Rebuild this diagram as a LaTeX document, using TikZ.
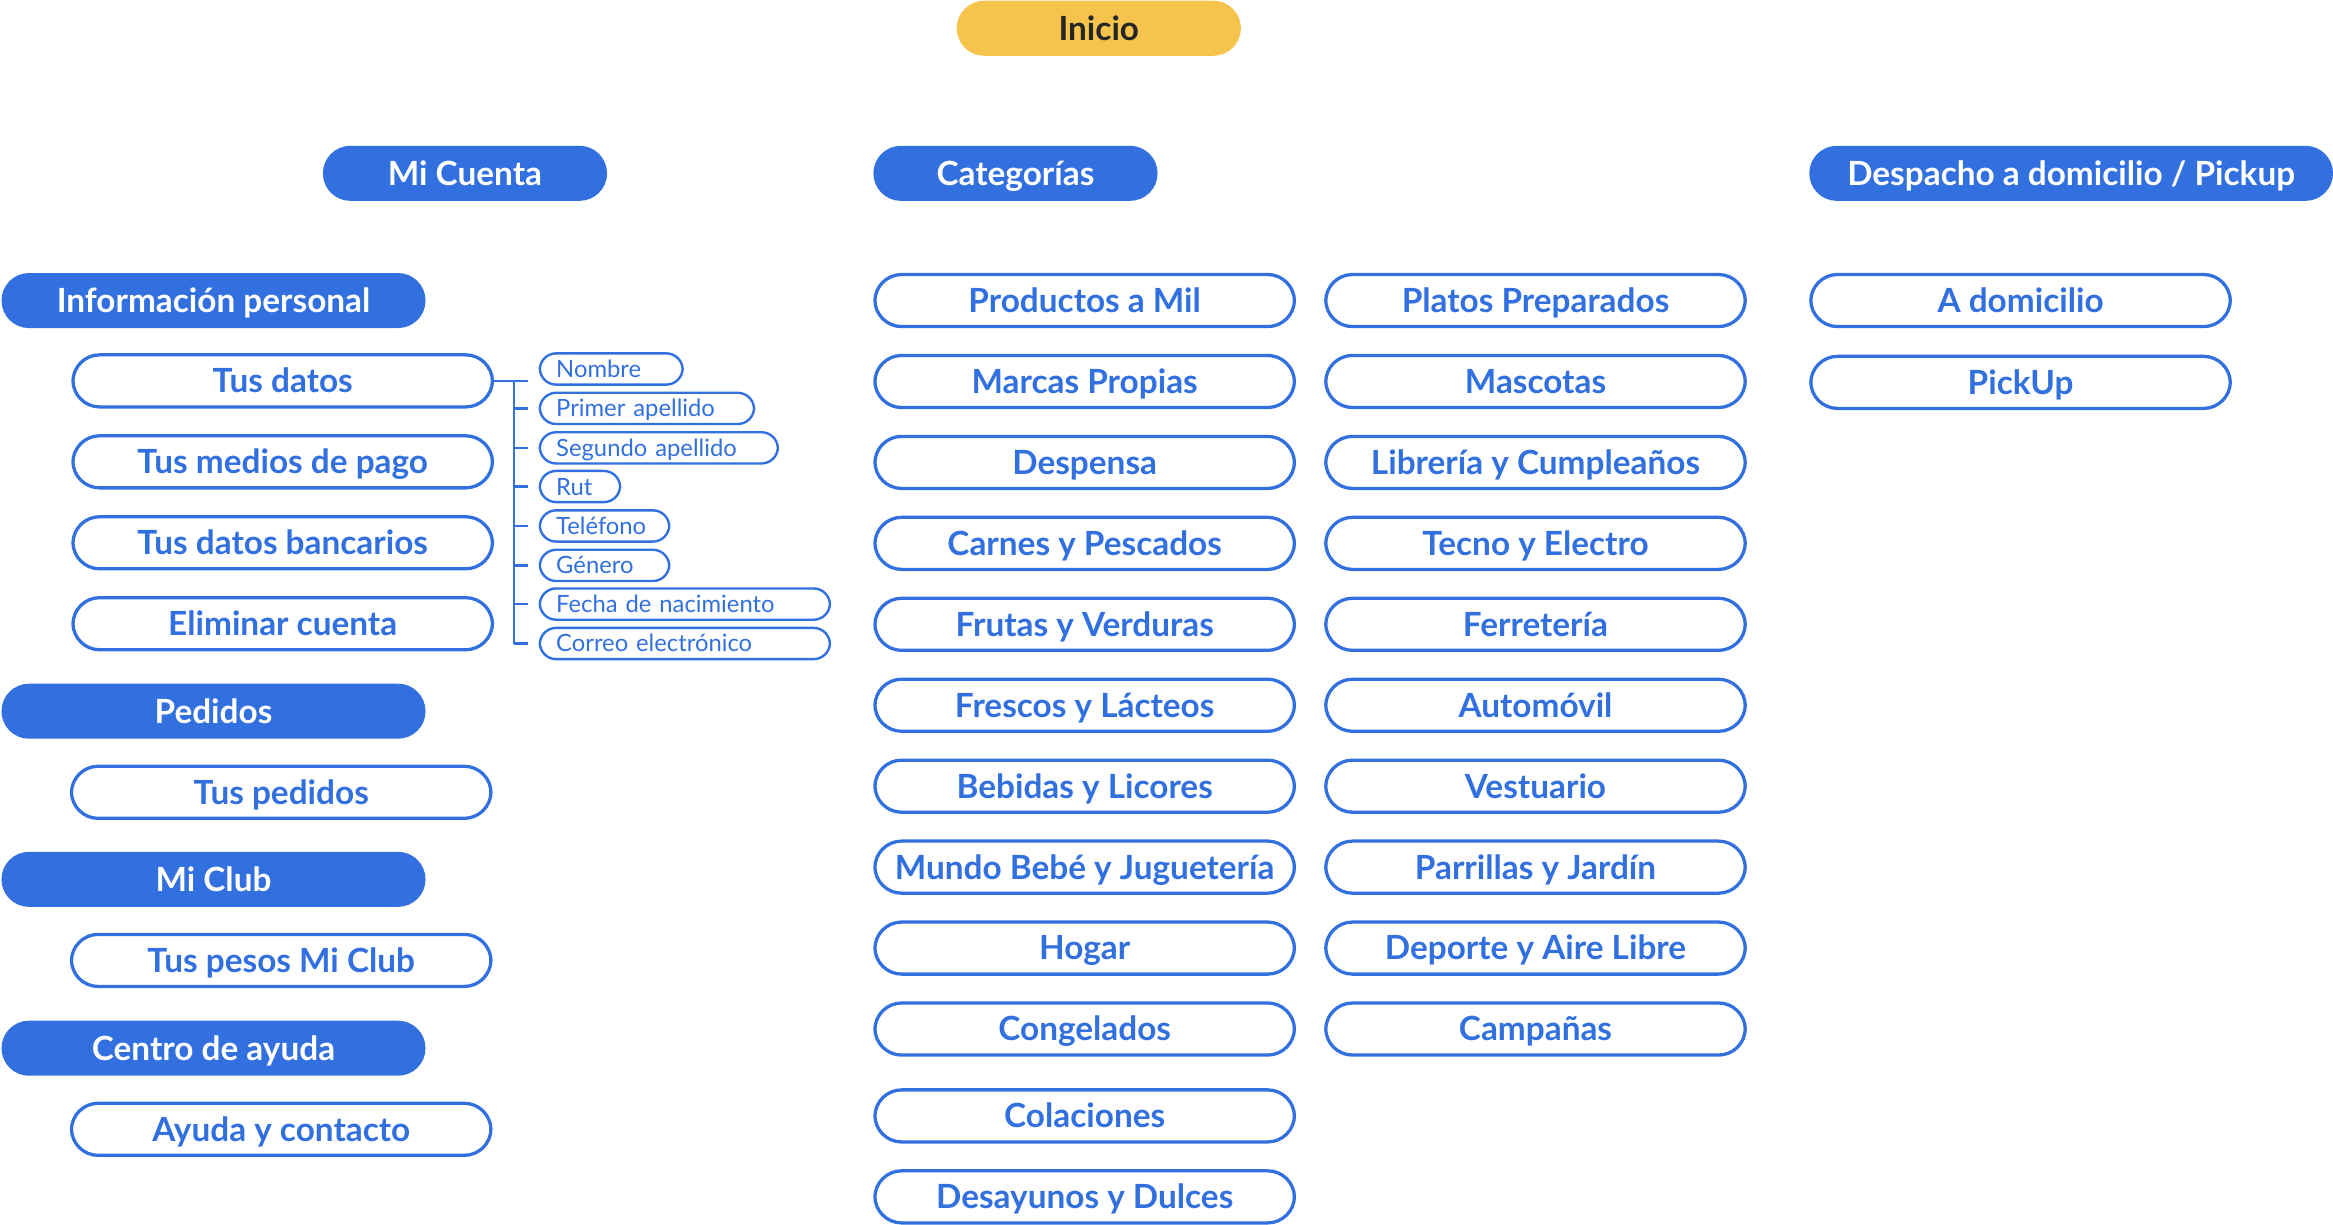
\documentclass[tikz,border=0pt]{standalone}
\usepackage{fontspec}
\setmainfont{Lato}
\usetikzlibrary{positioning}

\definecolor{azul}{HTML}{3170DE}
\definecolor{amarillo}{HTML}{F6C44C}
\definecolor{tinta}{HTML}{262626}

\begin{document}
\begin{tikzpicture}[x=0.5pt,y=-0.5pt,node distance=27.2pt,on grid,
    titulo/.style={fill=azul,text=white,font=\bfseries\fontsize{11.2}{12}\selectfont,
        rounded corners=9.25pt,minimum height=18.5pt,minimum width=95.5pt,inner sep=0pt,
        text height=8pt,text depth=0pt},
    seccion/.style={titulo,minimum width=142.5pt},
    inicio/.style={titulo,fill=amarillo,text=tinta},
    opcion/.style={draw=azul,line width=1.1pt,text=azul,font=\bfseries\fontsize{11.2}{12}\selectfont,
        rounded corners=9pt,minimum height=17.5pt,minimum width=141pt,inner sep=0pt,
        text height=8pt,text depth=0pt},
    campo/.style={draw=azul,line width=0.8pt,text=azul,font=\fontsize{8}{9}\selectfont,
        rounded corners=5.5pt,minimum height=10.5pt,anchor=west,align=left,
        inner xsep=5.5pt,inner ysep=0pt,text width=#1,text height=5.7pt,text depth=0pt},
    rama/.style={draw=azul,line width=0.8pt}]

    \useasboundingbox (0,0) rectangle (1568,823);

    % cabeceras
    \node[inicio] (inicio) at (738.5,19) {Inicio};
    \node[titulo] (micuenta) at (312.5,116.5) {Mi Cuenta};
    \node[titulo] (categorias) at (682.5,116.5) {Categorías};
    \node[titulo,minimum width=176pt] (despacho) at (1392,116.5) {Despacho a domicilio / Pickup};

    % Mi Cuenta
    \node[seccion] (infopersonal) at (143.5,202) {Información personal};
    \node[opcion] (tusdatos) at (190,256) {Tus datos};
    \node[opcion] (mediospago) [below=of tusdatos] {Tus medios de pago};
    \node[opcion] (bancarios) [below=of mediospago] {Tus datos bancarios};
    \node[opcion] (eliminar) [below=of bancarios] {Eliminar cuenta};
    \node[seccion] (pedidos) at (143.5,478) {Pedidos};
    \node[opcion] (tuspedidos) at (189,532.5) {Tus pedidos};
    \node[seccion] (miclub) at (143.5,591) {Mi Club};
    \node[opcion] (pesos) at (189,645.5) {Tus pesos Mi Club};
    \node[seccion] (ayuda) at (143.5,704.5) {Centro de ayuda};
    \node[opcion] (contacto) at (189,759) {Ayuda y contacto};

    % campos de Tus datos
    \node[campo=37pt] (nombre) at (362,248) {Nombre};
    \node[campo=61pt] (primer) at (362,274.5) {Primer apellido};
    \node[campo=69pt] (segundo) at (362,301) {Segundo apellido};
    \node[campo=16pt] (rut) at (362,327) {Rut};
    \node[campo=32.5pt] (telefono) at (362,353.5) {Teléfono};
    \node[campo=32.5pt] (genero) at (362,380) {Género};
    \node[campo=86.5pt] (nacimiento) at (362,406) {Fecha de nacimiento};
    \node[campo=86.5pt] (correo) at (362,432.5) {Correo electrónico};

    \coordinate (tronco) at (345.5,256);
    \draw[rama,shorten >=3.5pt] (tusdatos.east) -- (tusdatos.east -| nombre.west);
    \draw[rama] (tronco) -- (tronco |- correo.west);
    \draw[rama,shorten >=3.5pt] (tronco |- primer.west) -- (primer.west);
    \draw[rama,shorten >=3.5pt] (tronco |- segundo.west) -- (segundo.west);
    \draw[rama,shorten >=3.5pt] (tronco |- rut.west) -- (rut.west);
    \draw[rama,shorten >=3.5pt] (tronco |- telefono.west) -- (telefono.west);
    \draw[rama,shorten >=3.5pt] (tronco |- genero.west) -- (genero.west);
    \draw[rama,shorten >=3.5pt] (tronco |- nacimiento.west) -- (nacimiento.west);
    \draw[rama,shorten >=3.5pt] (tronco |- correo.west) -- (correo.west);

    % Categorías
    \node[opcion] (mil) at (729,202) {Productos a Mil};
    \node[opcion] (propias) [below=of mil] {Marcas Propias};
    \node[opcion] (despensa) [below=of propias] {Despensa};
    \node[opcion] (carnes) [below=of despensa] {Carnes y Pescados};
    \node[opcion] (frutas) [below=of carnes] {Frutas y Verduras};
    \node[opcion] (frescos) [below=of frutas] {Frescos y Lácteos};
    \node[opcion] (bebidas) [below=of frescos] {Bebidas y Licores};
    \node[opcion] (bebe) [below=of bebidas] {Mundo Bebé y Juguetería};
    \node[opcion] (hogar) [below=of bebe] {Hogar};
    \node[opcion] (congelados) [below=of hogar] {Congelados};
    \node[opcion] (colaciones) [below=29.2pt of congelados] {Colaciones};
    \node[opcion] (desayunos) [below=of colaciones] {Desayunos y Dulces};

    \node[opcion] (platos) at (1032,202) {Platos Preparados};
    \node[opcion] (mascotas) [below=of platos] {Mascotas};
    \node[opcion] (libreria) [below=of mascotas] {Librería y Cumpleaños};
    \node[opcion] (tecno) [below=of libreria] {Tecno y Electro};
    \node[opcion] (ferreteria) [below=of tecno] {Ferretería};
    \node[opcion] (automovil) [below=of ferreteria] {Automóvil};
    \node[opcion] (vestuario) [below=of automovil] {Vestuario};
    \node[opcion] (parrillas) [below=of vestuario] {Parrillas y Jardín};
    \node[opcion] (deporte) [below=of parrillas] {Deporte y Aire Libre};
    \node[opcion] (campanas) [below=of deporte] {Campañas};

    % Despacho
    \node[opcion] (domicilio) at (1358,202) {A domicilio};
    \node[opcion] (pickup) [below=27.5pt of domicilio] {PickUp};
\end{tikzpicture}
\end{document}
